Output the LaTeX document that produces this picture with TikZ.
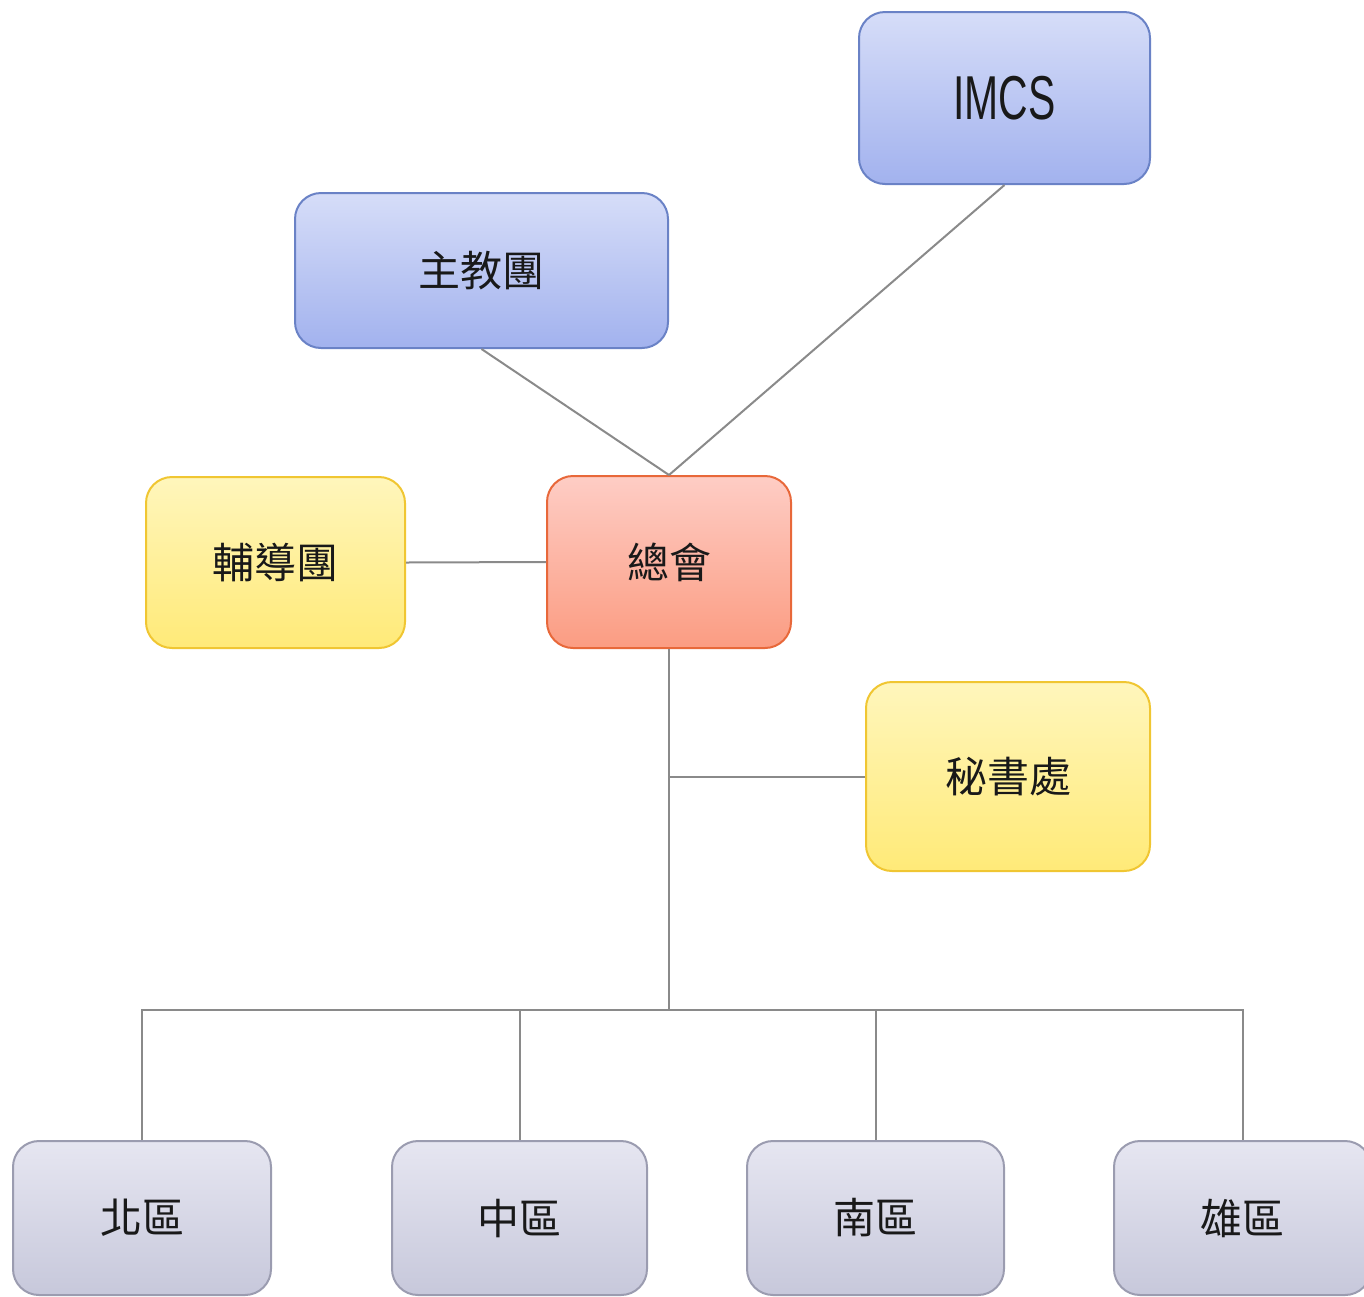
\documentclass[tikz,border=0pt]{standalone}
\usepackage{fontspec}
\setmainfont{Liberation Sans}
\newfontfamily\cjk{Noto Sans CJK TC}
\usetikzlibrary{positioning}
\definecolor{bluetop}{HTML}{D6DDF8}
\definecolor{bluebot}{HTML}{A2B2EE}
\definecolor{blueline}{HTML}{6A82C6}
\definecolor{redtop}{HTML}{FECDC5}
\definecolor{redbot}{HTML}{FB9C82}
\definecolor{redline}{HTML}{E8683A}
\definecolor{yeltop}{HTML}{FFF6BC}
\definecolor{yelbot}{HTML}{FFEA78}
\definecolor{yelline}{HTML}{F0C632}
\definecolor{graytop}{HTML}{E6E6F1}
\definecolor{graybot}{HTML}{C7C8DB}
\definecolor{grayline}{HTML}{9B9CB0}
\definecolor{conn}{HTML}{8A8A8A}
\tikzset{
  box/.style={rounded corners=13pt, line width=1pt, inner sep=0pt, text=black!90},
  bluebox/.style={box, top color=bluetop, bottom color=bluebot, draw=blueline},
  redbox/.style={box, top color=redtop, bottom color=redbot, draw=redline},
  yelbox/.style={box, top color=yeltop, bottom color=yelbot, draw=yelline},
  graybox/.style={box, top color=graytop, bottom color=graybot, draw=grayline},
  lbl/.style={font=\cjk\fontsize{21pt}{25pt}\selectfont},
  link/.style={draw=conn, line width=1pt}
}
\begin{document}
\begin{tikzpicture}[x=0.5pt, y=-0.5pt]
\useasboundingbox (0,0) rectangle (1364,1296);
\clip (0,0) rectangle (1364,1296);
\node[bluebox, minimum width=145.5pt, minimum height=86pt] (imcs) at (1004.5,98)
  {\fontsize{31pt}{34pt}\selectfont\scalebox{0.66}[1]{IMCS}};
\node[bluebox, lbl, minimum width=186.5pt, minimum height=77.5pt] (bishops) at (481.5,270.5) {主教團};
\node[yelbox, lbl, minimum width=129.5pt, minimum height=85.5pt] (fudao) at (275.5,562.5) {輔導團};
\node[redbox, lbl, minimum width=122pt, minimum height=86pt] (zonghui) at (669,562) {總會};
\node[yelbox, lbl, minimum width=142pt, minimum height=94.5pt] (mishu) at (1008,776.5) {秘書處};
\node[graybox, lbl, minimum width=129pt, minimum height=77pt] (north) at (142,1218) {北區};
\node[graybox, lbl, minimum width=127.5pt, minimum height=77pt] (middle) at (519.5,1218) {中區};
\node[graybox, lbl, minimum width=128.5pt, minimum height=77pt] (south) at (875.5,1218) {南區};
\node[graybox, lbl, minimum width=128.5pt, minimum height=77pt] (xiong) at (1242.5,1218) {雄區};
\coordinate (busY) at (0,1010);
\path[link] (bishops.south) -- (zonghui.north);
\path[link] (imcs.south) -- (zonghui.north);
\path[link] (fudao.east) -- (zonghui.west);
\path[link] (zonghui.south) -- (zonghui.south |- busY);
\path[link] (mishu.west) -- (mishu.west -| zonghui.south);
\path[link] (north.north) -- (north.north |- busY) -- (xiong.north |- busY) -- (xiong.north);
\path[link] (middle.north) -- (middle.north |- busY);
\path[link] (south.north) -- (south.north |- busY);
\end{tikzpicture}
\end{document}
